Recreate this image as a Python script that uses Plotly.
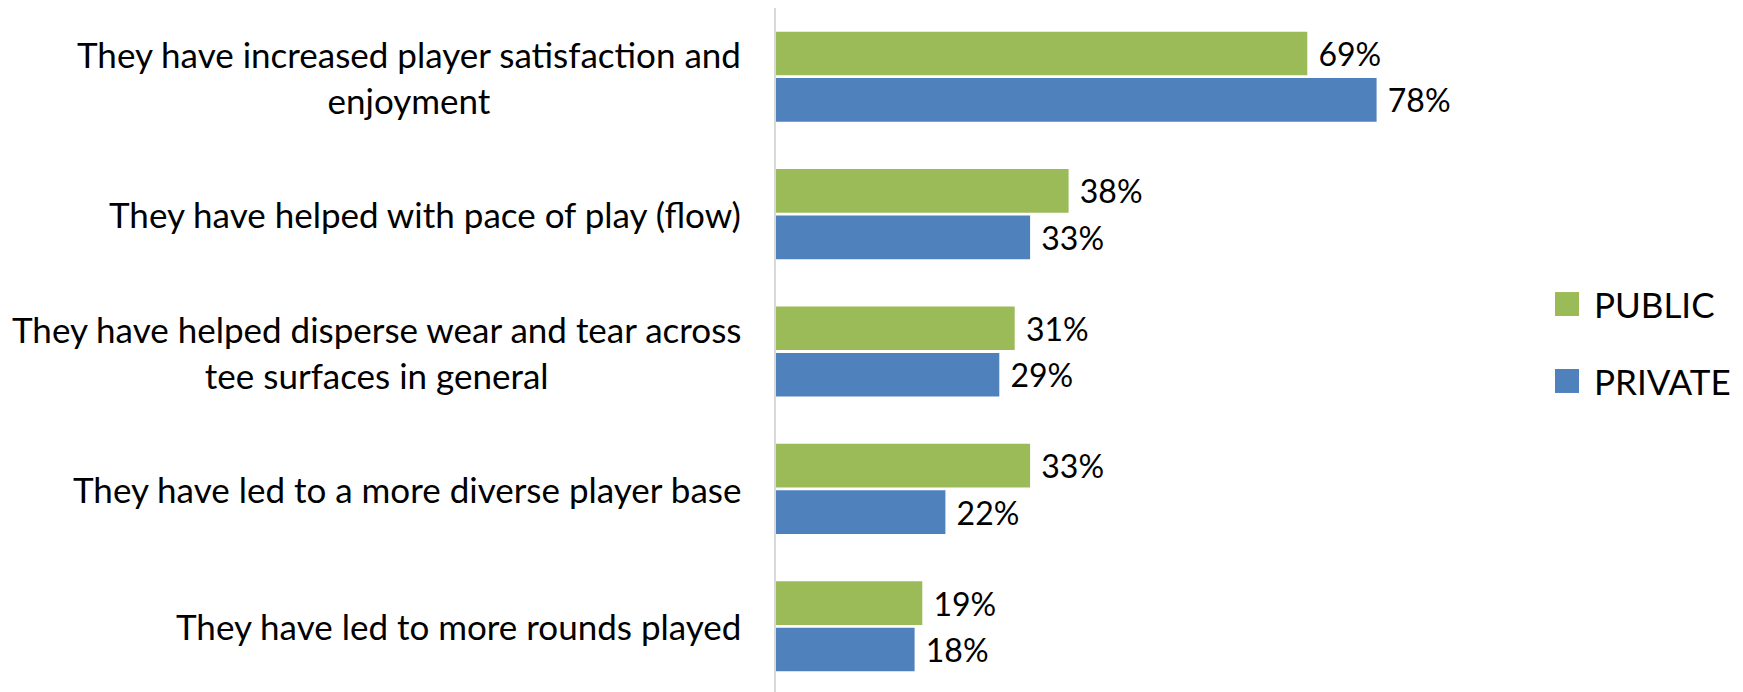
import plotly.graph_objects as go

categories = [
    "They have increased player satisfaction and<br>enjoyment",
    "They have helped with pace of play (flow)",
    "They have helped disperse wear and tear across<br>tee surfaces in general",
    "They have led to a more diverse player base",
    "They have led to more rounds played",
]
public_vals = [69, 38, 31, 33, 19]
private_vals = [78, 33, 29, 22, 18]
series_names = ["PUBLIC", "PRIVATE"]
colors = ["#9BBB59", "#4F81BD"]

FONT = "Lato"
FS_CAT = 35
FS_VAL = 32
FS_LEG = 35

fig = go.Figure()
for name, vals, col in zip(series_names, [public_vals, private_vals], colors):
    fig.add_trace(go.Bar(
        y=categories, x=vals, orientation="h", name=name,
        marker=dict(color=col, line=dict(width=0)),
        text=vals, texttemplate="\u00a0%{text}%", textposition="outside",
        textfont=dict(family=FONT, size=FS_VAL, color="#000000"),
        cliponaxis=False, showlegend=False,
    ))

for c in categories:
    fig.add_annotation(
        x=0, xref="paper", y=c, yref="y", text=c, showarrow=False,
        xanchor="right", yanchor="middle", align="center", xshift=-33,
        font=dict(family=FONT, size=FS_CAT, color="#000000"),
    )

# legend (drawn as fixed-size squares with labels)
legend_y = [0.5691, 0.4571]
for name, col, ly in zip(series_names, colors, legend_y):
    fig.add_shape(type="rect", xref="paper", yref="paper",
                  xsizemode="pixel", ysizemode="pixel",
                  xanchor=1.0117, yanchor=ly, x0=0, x1=24, y0=-12, y1=12,
                  fillcolor=col, line=dict(width=0))
    fig.add_annotation(x=1.0597, y=ly, xref="paper", yref="paper", text=name,
                       showarrow=False, xanchor="left", yanchor="middle",
                       font=dict(family=FONT, size=FS_LEG, color="#000000"))

fig.update_layout(
    width=1743, height=687,
    margin=dict(l=768, r=205, t=0, b=0),
    paper_bgcolor="white", plot_bgcolor="white",
    barmode="group", bargap=0.324, bargroupgap=0.06,
    font=dict(family=FONT, size=FS_VAL, color="#000000"),
    xaxis=dict(range=[0, 100], showgrid=False, zeroline=False, showticklabels=False,
               showline=False, ticks=""),
    yaxis=dict(autorange="reversed", showticklabels=False, showgrid=False,
               zeroline=False, showline=True, linecolor="#D9D9D9", linewidth=2, ticks=""),
    showlegend=False,
)

fig.write_html("out.html")
